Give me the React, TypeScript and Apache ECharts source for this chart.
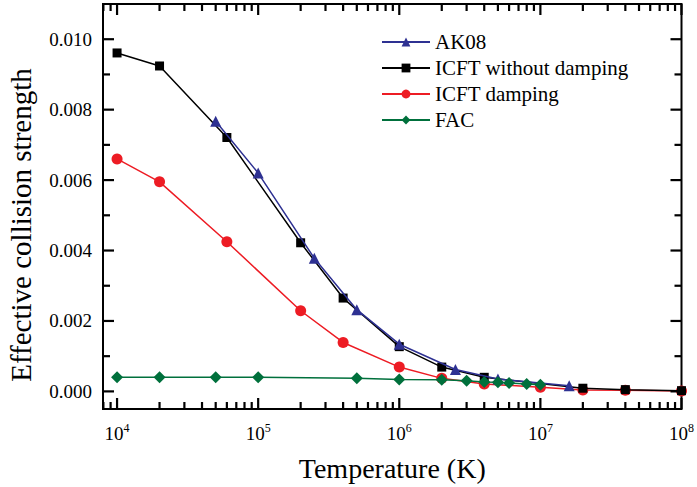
import React, { useEffect, useRef } from "react";
import * as echarts from "echarts";

const AK08_T = [5e4, 1e5, 2.5e5, 5e5, 1e6, 2.5e6, 5e6, 1.6e7];
const AK08_V = [0.00767, 0.0062, 0.00378, 0.00232, 0.00134, 0.00062, 0.00035, 0.00016];

const NODAMP_T = [1e4, 2e4, 6e4, 2e5, 4e5, 1e6, 2e6, 4e6, 2e7, 4e7, 1e8];
const NODAMP_V = [0.00961, 0.00924, 0.00721, 0.00422, 0.00265, 0.00127, 0.00069, 0.0004, 0.00009, 0.00005, 0.00002];

const DAMP_T = [1e4, 2e4, 6e4, 2e5, 4e5, 1e6, 2e6, 4e6, 1e7, 2e7, 4e7, 1e8];
const DAMP_V = [0.0066, 0.00595, 0.00425, 0.00229, 0.00139, 0.00069, 0.00037, 0.00021, 0.00012, 0.00004, 0.00003, 0.00001];

const FAC_T = [1e4, 2e4, 5e4, 1e5, 5e5, 1e6, 2e6, 3e6, 4e6, 5e6, 6e6, 8e6, 1e7];
const FAC_V = [0.0004, 0.0004, 0.0004, 0.0004, 0.00037, 0.00034, 0.00033, 0.0003, 0.00027, 0.00026, 0.00024, 0.00021, 0.00019];

const X_MIN = 7950;
const X_MAX = 1e8;
const X_MAJOR = [1e4, 1e5, 1e6, 1e7, 1e8];
const X_MINOR = [
  8e3, 9e3,
  2e4, 3e4, 4e4, 5e4, 6e4, 7e4, 8e4, 9e4,
  2e5, 3e5, 4e5, 5e5, 6e5, 7e5, 8e5, 9e5,
  2e6, 3e6, 4e6, 5e6, 6e6, 7e6, 8e6, 9e6,
  2e7, 3e7, 4e7, 5e7, 6e7, 7e7, 8e7, 9e7,
];
const Y_MIN = -0.0005;
const Y_MAX = 0.011;
const Y_MAJOR = [0, 0.002, 0.004, 0.006, 0.008, 0.01];
const Y_MINOR = [0.001, 0.003, 0.005, 0.007, 0.009];

const FONT = "Liberation Serif";
const BLUE = "#2e3192";
const BLACK = "#000000";
const RED = "#ed1c24";
const GREEN = "#00703c";

const zip = (t: number[], v: number[]) => t.map((x, i) => [x, v[i]]);

export default function App() {
  const ref = useRef<HTMLDivElement>(null);
  useEffect(() => {
    document.body.style.margin = "0";
    const chart = echarts.init(ref.current!, null, { renderer: "svg" });

    // side: 0 bottom, 1 top, 2 left, 3 right
    const tickSeries = (vals: number[], len: number, side: number) => ({
      type: "custom",
      silent: true,
      clip: false,
      z: 10,
      data: side < 2 ? vals.map((v) => [v, side === 0 ? Y_MIN : Y_MAX]) : vals.map((v) => [side === 2 ? X_MIN : X_MAX, v]),
      renderItem: (_p: any, api: any) => {
        const c = api.coord([api.value(0), api.value(1)]);
        const dx = side === 2 ? len : side === 3 ? -len : 0;
        const dy = side === 0 ? -len : side === 1 ? len : 0;
        return {
          type: "line",
          shape: { x1: c[0], y1: c[1], x2: c[0] + dx, y2: c[1] + dy },
          style: { stroke: "#000000", lineWidth: 2.2 },
        };
      },
    });

    const sym = (name: string, data: number[][], color: string, symbol: string, size: number, z: number) => ({
      name,
      type: "line",
      data,
      symbol,
      symbolSize: size,
      z,
      lineStyle: { color, width: 1.5 },
      itemStyle: { color },
    });

    chart.setOption({
      animation: false,
      textStyle: { fontFamily: FONT, color: "#000" },
      grid: {
        left: 103,
        right: 14,
        top: 4,
        bottom: 77,
        show: true,
        borderColor: "#000",
        borderWidth: 2,
        backgroundColor: "transparent",
      },
      legend: {
        orient: "vertical",
        left: 376,
        top: 26,
        itemWidth: 48,
        itemHeight: 11,
        itemGap: 4,
        textStyle: { fontFamily: FONT, fontSize: 21, color: "#000", lineHeight: 22 },
        data: ["AK08", "ICFT without damping", "ICFT damping", "FAC"],
      },
      graphic: [
        {
          type: "text",
          x: 21,
          y: 225,
          rotation: Math.PI / 2,
          style: {
            text: "Effective collision strength",
            fontFamily: FONT,
            fontSize: 29,
            fill: "#000",
            align: "center",
            verticalAlign: "middle",
          },
        },
      ],
      xAxis: {
        type: "log",
        min: X_MIN,
        max: X_MAX,
        logBase: 10,
        splitLine: { show: false },
        axisLine: { show: false, onZero: false },
        axisTick: { show: false },
        minorTick: { show: false },
        axisLabel: {
          customValues: X_MAJOR,
          margin: 13,
          formatter: (v: number) => `{b|10}{s|${Math.round(Math.log10(v))}}`,
          rich: {
            b: { fontFamily: FONT, fontSize: 19, color: "#000", lineHeight: 22 },
            s: { fontFamily: FONT, fontSize: 12, color: "#000", verticalAlign: "top", lineHeight: 22 },
          },
        },
        name: "Temperature (K)",
        nameLocation: "middle",
        nameGap: 45,
        nameTextStyle: { fontFamily: FONT, fontSize: 28, color: "#000" },
      },
      yAxis: {
        type: "value",
        min: Y_MIN,
        max: Y_MAX,
        splitLine: { show: false },
        axisLine: { show: false, onZero: false },
        axisTick: { show: false },
        axisLabel: {
          customValues: Y_MAJOR,
          margin: 11,
          fontFamily: FONT,
          fontSize: 19,
          color: "#000",
          formatter: (v: number) => v.toFixed(3),
        },
      },
      series: [
        tickSeries(X_MAJOR, 11, 0),
        tickSeries(X_MAJOR, 11, 1),
        tickSeries(X_MINOR, 7, 0),
        tickSeries(X_MINOR, 7, 1),
        tickSeries(Y_MAJOR, 11, 2),
        tickSeries(Y_MAJOR, 11, 3),
        tickSeries(Y_MINOR, 7, 2),
        tickSeries(Y_MINOR, 7, 3),
        sym("ICFT damping", zip(DAMP_T, DAMP_V), RED, "circle", 11, 2),
        sym("ICFT without damping", zip(NODAMP_T, NODAMP_V), BLACK, "rect", 9, 3),
        sym("AK08", zip(AK08_T, AK08_V), BLUE, "triangle", 11, 4),
        sym("FAC", zip(FAC_T, FAC_V), GREEN, "diamond", 12, 5),
      ],
    });
    return () => chart.dispose();
  }, []);
  return <div ref={ref} style={{ width: 697, height: 487 }} />;
}
